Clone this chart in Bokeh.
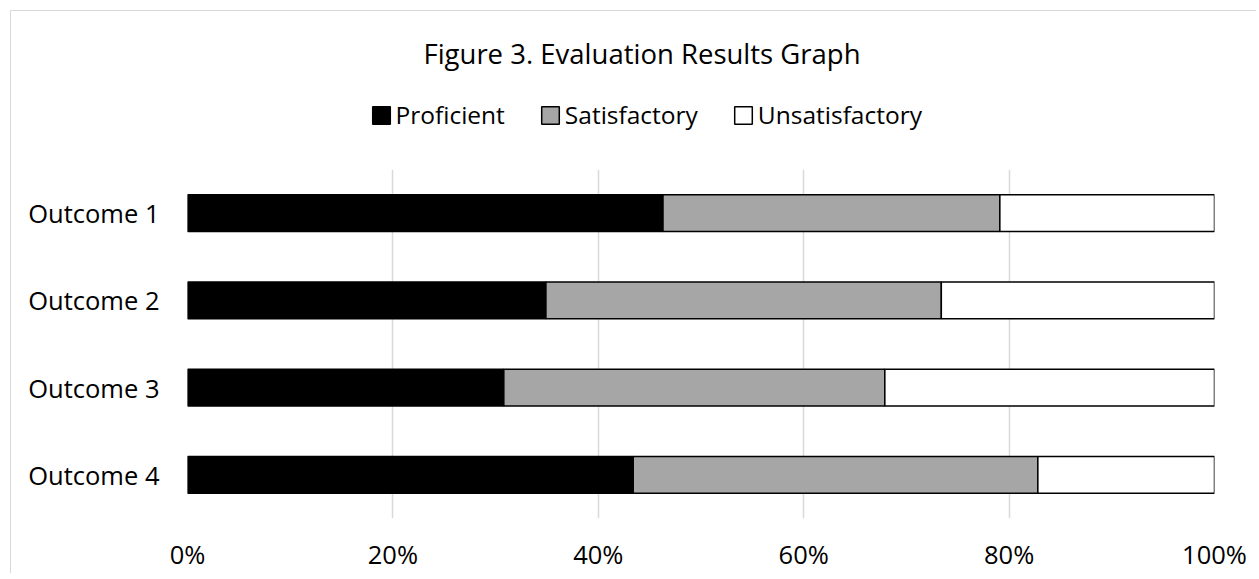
from bokeh.plotting import figure
from bokeh.layouts import column
from bokeh.models import (FactorRange, Range1d, FixedTicker, NumeralTickFormatter,
                          Legend, LegendItem, Label, ColumnDataSource)
from bokeh.embed import file_html
from bokeh.resources import INLINE

# ---- data ----
outcomes = ["Outcome 1", "Outcome 2", "Outcome 3", "Outcome 4"]
proficient = [0.463, 0.349, 0.308, 0.434]
satisfactory = [0.328, 0.385, 0.371, 0.394]
unsatisfactory = [0.209, 0.266, 0.321, 0.172]
series = ["Proficient", "Satisfactory", "Unsatisfactory"]
colors = ["#000000", "#a6a6a6", "#ffffff"]
x_ticks = [0, 0.2, 0.4, 0.6, 0.8, 1.0]
title_text = "Figure 3. Evaluation Results Graph"

FONT = "Open Sans"
W = 1246
TOP_H = 149
MAIN_H = 414

source = ColumnDataSource({"outcome": outcomes, "Proficient": proficient,
                           "Satisfactory": satisfactory, "Unsatisfactory": unsatisfactory})

# ---- header figure: title + legend ----
top = figure(width=W, height=TOP_H, x_range=Range1d(0, 1), y_range=Range1d(0, 1),
             output_backend="svg", toolbar_location=None,
             x_axis_location=None, y_axis_location=None,
             min_border_left=0, min_border_right=0,
             min_border_top=0, min_border_bottom=0)
top.outline_line_color = None
top.grid.grid_line_color = None
top.styles = {"border-top": "1px solid #d9d9d9", "border-left": "1px solid #d9d9d9"}

top.add_layout(Label(x=454.5, y=107, x_units="screen", y_units="screen", text=title_text,
                     text_align="center", text_baseline="alphabetic",
                     text_font=FONT, text_font_size="27.5px", text_color="black"))

# legend keys (same series/colours as the bars; not drawn inside this header's ranges)
legend_renderers = top.hbar_stack(series, y="outcome", height=0.42, color=colors,
                                  line_color="black", line_width=1.5, source=source)
legend = Legend(items=[LegendItem(label=s, renderers=[r]) for s, r in zip(series, legend_renderers)],
                orientation="horizontal", location=(182.5, 29),
                glyph_width=22, glyph_height=22, label_standoff=4, spacing=34,
                padding=0, margin=0, border_line_color=None,
                background_fill_alpha=0,
                label_text_font=FONT, label_text_font_size="24.5px",
                label_text_color="black")
top.add_layout(legend, "center")

# ---- main chart ----
p = figure(
    width=W, height=MAIN_H,
    y_range=FactorRange(*reversed(outcomes)),
    x_range=Range1d(0, 1),
    output_backend="svg", toolbar_location=None,
    min_border_left=176, min_border_right=43,
    min_border_top=10, min_border_bottom=54,
)
p.styles = {"border-left": "1px solid #d9d9d9"}
p.outline_line_color = None

renderers = p.hbar_stack(series, y="outcome", height=0.42, color=colors,
                         line_color="black", line_width=1.5, source=source)

p.xaxis.ticker = FixedTicker(ticks=x_ticks)
p.xaxis.formatter = NumeralTickFormatter(format="0%")
for ax in (p.xaxis[0], p.yaxis[0]):
    ax.axis_line_color = None
    ax.major_tick_line_color = None
    ax.minor_tick_line_color = None
    ax.major_tick_in = 0
    ax.major_tick_out = 0
    ax.major_label_text_font = FONT
    ax.major_label_text_font_size = "25.5px"
    ax.major_label_text_color = "black"
p.xaxis.major_label_standoff = 18
p.yaxis.major_label_standoff = 28

p.xgrid.grid_line_color = "#d9d9d9"
p.xgrid.grid_line_width = 1.5
p.ygrid.grid_line_color = None

layout = column(top, p, spacing=0)
layout.margin = (10, 0, 0, 10)

open("out.html", "w").write(file_html(layout, INLINE))
